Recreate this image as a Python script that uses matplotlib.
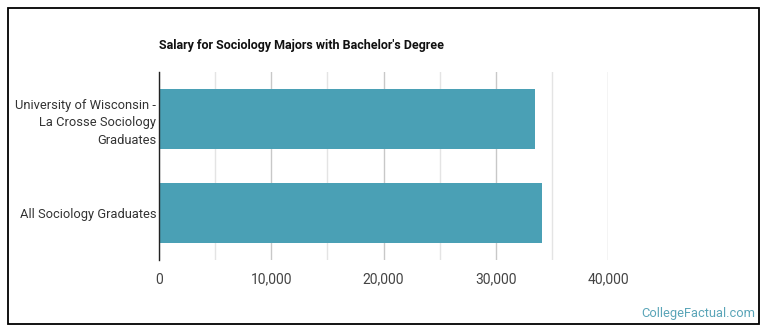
import matplotlib
matplotlib.use("Agg")
import matplotlib.pyplot as plt
from matplotlib.patches import Rectangle

categories = ["University of Wisconsin -\nLa Crosse Sociology\nGraduates", "All Sociology Graduates"]
values = [33510, 34130]
xticks = [0, 10000, 20000, 30000, 40000]
xtick_labels = ["0", "10,000", "20,000", "30,000", "40,000"]
minor_ticks = [5000, 15000, 25000, 35000]

plt.rcParams['font.family'] = ['Roboto', 'DejaVu Sans']

W, H = 770, 335
fig = plt.figure(figsize=(W/100, H/100), dpi=100)
ax = fig.add_axes([159/W, 1-260/H, (608-159)/W, (260-72)/H])

ypos = [0, 1]
ax.barh(ypos, values, height=0.64, color="#4aa0b5", zorder=3)
ax.set_ylim(1.5, -0.5)
ax.set_xlim(0, 40000)
ax.set_yticks(ypos)
ax.set_yticklabels(categories, fontsize=9.3, color="#333333", linespacing=1.45)
ax.set_xticks(xticks)
ax.set_xticklabels(xtick_labels, fontsize=10, color="#444444")
ax.set_xticks(minor_ticks, minor=True)
ax.tick_params(axis='y', length=0, pad=2)
ax.tick_params(axis='x', which='both', length=0, pad=9)
ax.grid(axis='x', which='major', color="#c8c8c8", linewidth=1, zorder=0)
ax.grid(axis='x', which='minor', color="#e4e4e4", linewidth=1, zorder=0)
for s in ['top', 'right', 'bottom']:
    ax.spines[s].set_visible(False)
ax.spines['left'].set_color("#222222")
ax.spines['left'].set_linewidth(1)
ax.spines['left'].set_zorder(4)

fig.text(159/W, 1-45/H, "Salary for Sociology Majors with Bachelor's Degree",
         fontsize=9, fontweight='bold', color="#111111", va='center', ha='left')
fig.text(755/W, 1-313/H, "CollegeFactual.com", fontsize=9.3, color="#5aa5b8",
         ha='right', va='center')
fig.patches.append(Rectangle((8/W, 1-324/H), (759-8)/W, (324-8)/H,
                             transform=fig.transFigure, fill=False,
                             edgecolor='black', linewidth=1.3))
fig.savefig("out.png", dpi=100)
